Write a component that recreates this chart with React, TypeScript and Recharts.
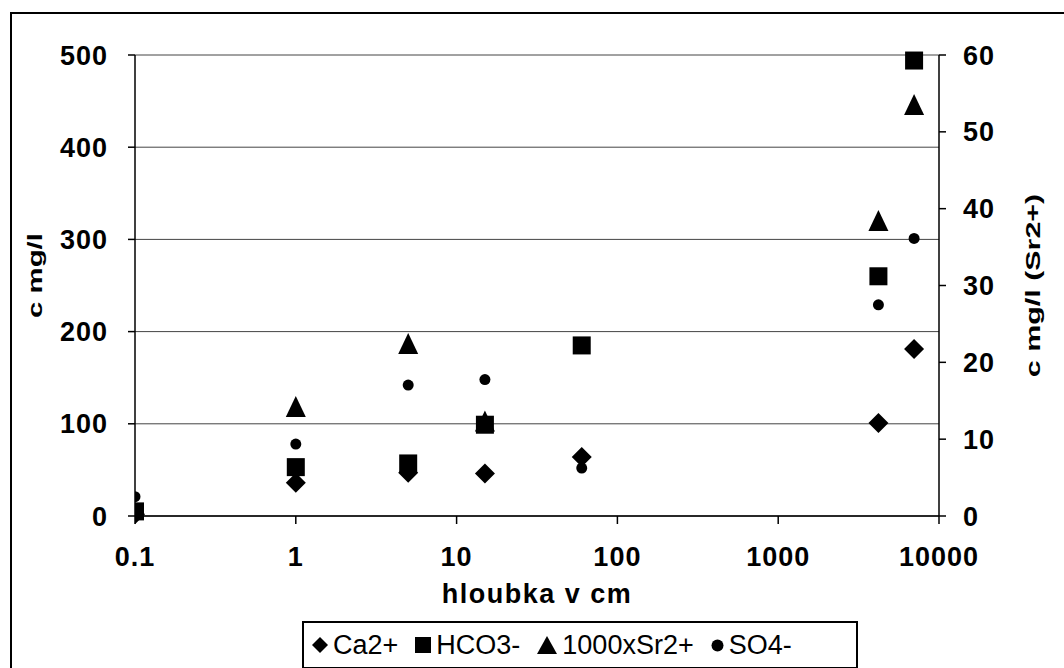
import { CartesianGrid, Label, Scatter, ScatterChart, XAxis, YAxis } from "recharts";

// depth in cm (log axis)
const depths = [0.1, 1, 5, 15, 60, 4200, 7000];
const ca = [2, 36, 47, 46, 64, 101, 181];
const hco3 = [5, 53, 57, 99, 185, 260, 494];
const so4 = [21, 78, 142, 148, 52, 229, 301];
// strontium x1000, right axis
const srDepths = [1, 5, 15, 4200, 7000];
const sr1000 = [14.2, 22.4, 12.3, 38.4, 53.5];

const xTicks = [0.1, 1, 10, 100, 1000, 10000];
const leftTicks = [0, 100, 200, 300, 400, 500];
const rightTicks = [0, 10, 20, 30, 40, 50, 60];

const FONT = '"Liberation Sans", Arial, sans-serif';

const toPoints = (xs: number[], ys: number[]) => xs.map((x, i) => ({ x, y: ys[i] }));

const caData = toPoints(depths, ca);
const hco3Data = toPoints(depths, hco3);
const so4Data = toPoints(depths, so4);
const srData = toPoints(srDepths, sr1000);

const diamond = (p: any) => (
  <path d={`M${p.cx},${p.cy - 10}L${p.cx + 10},${p.cy}L${p.cx},${p.cy + 10}L${p.cx - 10},${p.cy}Z`} fill="#000" />
);
const square = (p: any) => <rect x={p.cx - 9} y={p.cy - 9} width={18} height={18} fill="#000" />;
const triangle = (p: any) => (
  <path d={`M${p.cx},${p.cy - 11}L${p.cx + 10},${p.cy + 10}L${p.cx - 10},${p.cy + 10}Z`} fill="#000" />
);
const dot = (p: any) => <circle cx={p.cx} cy={p.cy} r={5.5} fill="#000" />;

const tickStyle = { fontSize: 27, fontWeight: "bold", fill: "#000", fontFamily: FONT, letterSpacing: 1 };

const legendItems = [
  { name: "Ca2+", marker: "diamond" },
  { name: "HCO3-", marker: "square" },
  { name: "1000xSr2+", marker: "triangle" },
  { name: "SO4-", marker: "dot" },
];

function LegendMarker({ kind }: { kind: string }) {
  if (kind === "diamond")
    return (
      <svg width={16} height={16}>
        <path d="M8,0L16,8L8,16L0,8Z" fill="#000" />
      </svg>
    );
  if (kind === "square")
    return (
      <svg width={16} height={16}>
        <rect x={0} y={0} width={16} height={16} fill="#000" />
      </svg>
    );
  if (kind === "triangle")
    return (
      <svg width={20} height={18}>
        <path d="M10,0L20,18L0,18Z" fill="#000" />
      </svg>
    );
  return (
    <svg width={13} height={13}>
      <circle cx={6.5} cy={6.5} r={6} fill="#000" />
    </svg>
  );
}

export default function App() {
  return (
    <div
      style={{
        position: "fixed",
        left: 0,
        top: 0,
        width: 1064,
        height: 668,
        overflow: "hidden",
        background: "#fff",
        fontFamily: FONT,
      }}
    >
      <div
        style={{
          position: "absolute",
          left: 10,
          top: 12,
          width: 1100,
          height: 700,
          border: "2px solid #000",
        }}
      />
      <div style={{ position: "absolute", left: 0, top: 0 }}>
        <ScatterChart width={1064} height={668} margin={{ top: 55, right: 0, bottom: 92, left: 0 }}>
          <CartesianGrid yAxisId="left" vertical={false} stroke="#444" strokeWidth={1} />
          <XAxis
            dataKey="x"
            type="number"
            scale="log"
            domain={[0.1, 10000]}
            ticks={xTicks}
            allowDataOverflow
            tickFormatter={(v) => String(v)}
            height={60}
            tickSize={8}
            tickMargin={23}
            stroke="#000"
            strokeWidth={1.5}
            tick={tickStyle}
          >
            <Label
              content={(props: any) => {
                const vb = props.viewBox;
                return (
                  <text
                    x={vb.x + vb.width / 2}
                    y={vb.y + 87}
                    textAnchor="middle"
                    fontSize={27}
                    fontWeight="bold"
                    fontFamily={FONT}
                    letterSpacing={1.5}
                    fill="#000"
                  >
                    hloubka v cm
                  </text>
                );
              }}
            />
          </XAxis>
          <YAxis
            yAxisId="left"
            dataKey="y"
            type="number"
            domain={[0, 500]}
            ticks={leftTicks}
            width={135}
            tickSize={7}
            tickMargin={20}
            stroke="#000"
            strokeWidth={1.5}
            tick={tickStyle}
          >
            <Label
              content={(props: any) => {
                const vb = props.viewBox;
                return (
                  <text
                    transform={`translate(${vb.x + 42},${vb.y + vb.height / 2 - 10}) rotate(-90) scale(1.4,1)`}
                    textAnchor="middle"
                    fontSize={21}
                    fontWeight="bold"
                    fontFamily={FONT}
                    fill="#000"
                  >
                    c mg/l
                  </text>
                );
              }}
            />
          </YAxis>
          <YAxis
            yAxisId="right"
            orientation="right"
            dataKey="y"
            type="number"
            domain={[0, 60]}
            ticks={rightTicks}
            width={125}
            tickSize={7}
            tickMargin={17}
            stroke="#000"
            strokeWidth={1.5}
            tick={tickStyle}
          >
            <Label
              content={(props: any) => {
                const vb = props.viewBox;
                return (
                  <text
                    transform={`translate(${vb.x + 101},${vb.y + vb.height / 2}) rotate(-90) scale(1.45,1)`}
                    textAnchor="middle"
                    fontSize={21}
                    fontWeight="bold"
                    fontFamily={FONT}
                    fill="#000"
                  >
                    c mg/l (Sr2+)
                  </text>
                );
              }}
            />
          </YAxis>
          <Scatter name="Ca2+" yAxisId="left" data={caData} shape={diamond} isAnimationActive={false} />
          <Scatter name="HCO3-" yAxisId="left" data={hco3Data} shape={square} isAnimationActive={false} />
          <Scatter name="1000xSr2+" yAxisId="right" data={srData} shape={triangle} isAnimationActive={false} />
          <Scatter name="SO4-" yAxisId="left" data={so4Data} shape={dot} isAnimationActive={false} />
        </ScatterChart>
      </div>
      <div
        style={{
          position: "absolute",
          left: 302,
          top: 621,
          width: 556,
          height: 48,
          border: "2px solid #000",
          background: "#fff",
          display: "flex",
          alignItems: "center",
          paddingLeft: 8,
          boxSizing: "border-box",
          fontSize: 27,
          color: "#000",
        }}
      >
        {legendItems.map((it) => (
          <div key={it.name} style={{ display: "flex", alignItems: "center", marginRight: 17 }}>
            <LegendMarker kind={it.marker} />
            <span style={{ marginLeft: 5 }}>{it.name}</span>
          </div>
        ))}
      </div>
    </div>
  );
}
